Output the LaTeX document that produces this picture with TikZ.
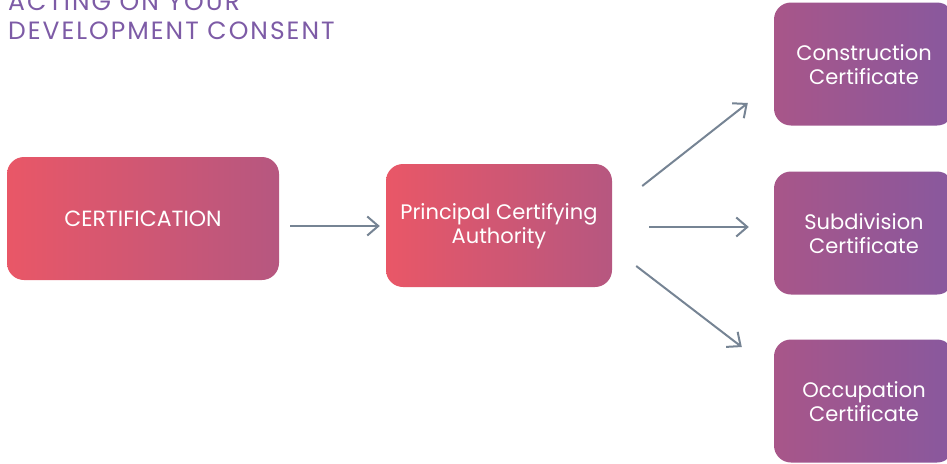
\documentclass[tikz,border=0pt]{standalone}
\usepackage{fontspec}
\setmainfont{Poppins}
\newfontfamily\titlefont{Poppins}[LetterSpace=8]
\usetikzlibrary{arrows.meta}

\definecolor{titlepurple}{RGB}{125,91,166}
\definecolor{redleft}{RGB}{233,87,103}
\definecolor{redright}{RGB}{182,87,128}
\definecolor{purpleleft}{RGB}{168,86,137}
\definecolor{purpleright}{RGB}{136,88,158}
\definecolor{arrowgrey}{RGB}{118,132,148}

\tikzset{
	stage/.style={rounded corners=17pt, text=white, align=center, inner sep=0pt,
		minimum height=123pt, font=\fontsize{21}{24}\selectfont},
	redstage/.style={stage, left color=redleft, right color=redright},
	purplestage/.style={stage, left color=purpleleft, right color=purpleright, minimum width=180pt},
	heading/.style={anchor=base west, inner sep=0pt, color=titlepurple, font=\titlefont\fontsize{25}{30}\selectfont},
	flow/.style={line width=2pt, color=arrowgrey, -{Straight Barb[length=11pt,width=19pt]}},
}

\begin{document}
\begin{tikzpicture}[x=1pt, y=-1pt]
		%%%%% START %%%%%
		
		\useasboundingbox (0, 0) rectangle (947, 463);
		
		\node[heading] (title1) at (8, 10) {ACTING ON YOUR};
		\node[heading] (title2) at (8, 39) {DEVELOPMENT CONSENT};
		
		\node[redstage, minimum width=272pt, font=\fontsize{22}{24}\selectfont] (cert) at (143, 218.5) {CERTIFICATION};
		\node[redstage, minimum width=226pt] (pca) at (499, 225.5) {\strut Principal Certifying\\Authority};
		
		\node[purplestage] (cons) at (864, 64) {\strut Construction\\Certificate};
		\node[purplestage] (subd) at (864, 233) {\strut Subdivision\\Certificate};
		\node[purplestage] (occ) at (864, 401) {\strut Occupation\\Certificate};
		
		\draw[flow] ([shift={(11, 7.5)}]cert.east) -- ([shift={(-6, 0.5)}]pca.west);
		
		\draw[flow] ([shift={(30, -39.5)}]pca.east) -- ([shift={(-26, 39)}]cons.west);
		\draw[flow] ([shift={(37, 1.5)}]pca.east) -- ([shift={(-25, -6)}]subd.west);
		\draw[flow] ([shift={(24, 40.5)}]pca.east) -- ([shift={(-32, -54)}]occ.west);
		
		%%%%% END %%%%%
	\end{tikzpicture}
\end{document}
